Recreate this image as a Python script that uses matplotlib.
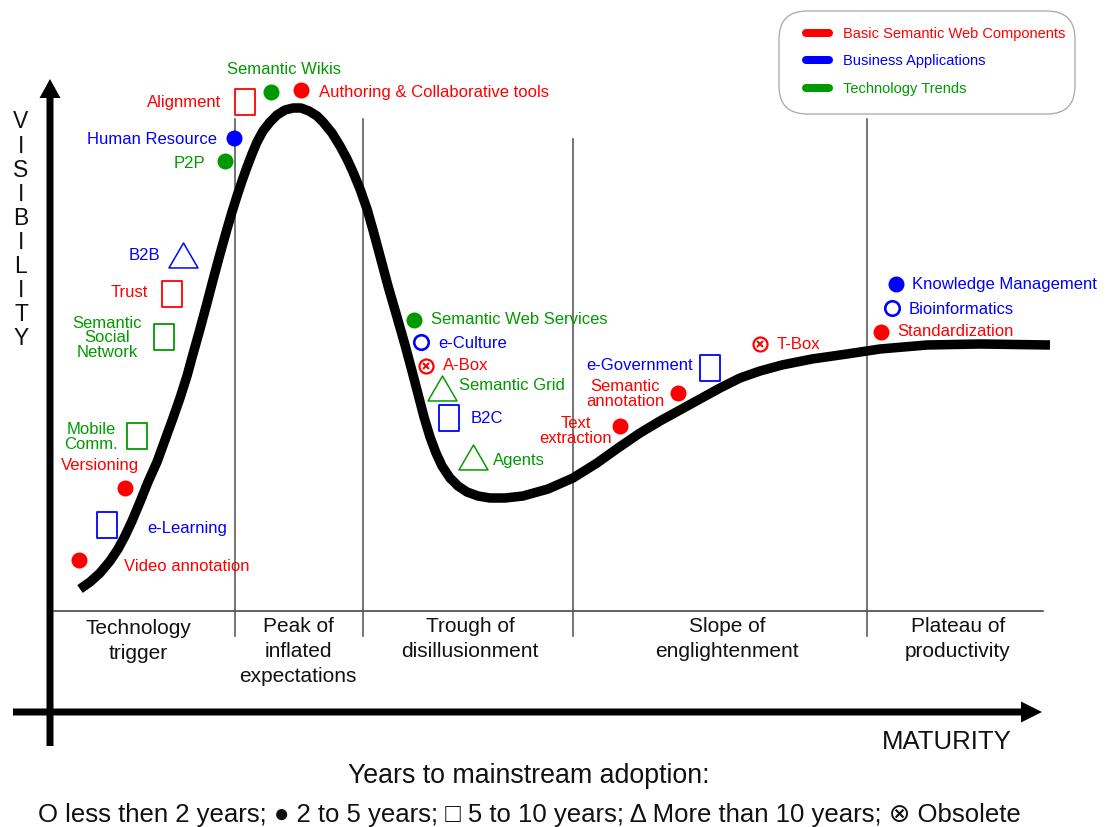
import matplotlib
matplotlib.use("Agg")
import matplotlib.pyplot as plt
from matplotlib.path import Path
from matplotlib.markers import MarkerStyle
from matplotlib.patches import FancyBboxPatch, FancyArrow

plt.rcParams['font.family'] = ['Liberation Sans', 'DejaVu Sans']

# ---------------- data ----------------
categories = ['Basic Semantic Web Components', 'Business Applications', 'Technology Trends']
category_colors = ['#ff0000', '#0000ff', '#009a00']

adoption_classes = ['less then 2 years', '2 to 5 years', '5 to 10 years',
                    'More than 10 years', 'Obsolete']
adoption_symbols = ['O', '\u25cf', '\u25a1', '\u0394', '\u2297']

phases = ['Technology\ntrigger', 'Peak of\ninflated\nexpectations', 'Trough of\ndisillusionment',
          'Slope of\nenglightenment', 'Plateau of\nproductivity']

# hype curve (maturity, visibility), in pixel units
curve_x = [80, 90, 100, 110, 118, 125, 132, 140, 148, 157, 165, 173, 180, 187, 193, 200, 207,
           213, 220, 227, 232, 237, 242, 247, 252, 257, 263, 270, 277, 285, 293, 301, 309, 317,
           323, 332, 340, 347, 353, 360, 367, 373, 380, 388, 397, 405, 412, 418, 424, 430, 436,
           442, 450, 458, 467, 478, 490, 505, 523, 548, 573, 597, 618, 640, 660, 680, 700, 720,
           740, 760, 782, 812, 847, 880, 927, 980, 1050]
curve_y = [590, 583, 574, 562, 550, 537, 522, 503, 483, 463, 441, 419, 399, 377, 355, 330, 304,
           281, 255, 230, 213, 197, 182, 168, 155, 143, 132, 123, 116, 111, 109, 109, 112, 117,
           123, 134, 147, 160, 173, 190, 210, 231, 257, 287, 318, 346, 372, 395, 418, 438, 454,
           467, 479, 487, 493, 497, 499, 499, 497, 490, 479, 464, 449, 434, 422, 411, 400, 389,
           379, 372, 366, 360, 355, 350, 346, 345, 346]

tech_names = ['Video annotation', 'e-Learning', 'Versioning', 'Mobile\nComm.',
              'Semantic\nSocial\nNetwork', 'Trust', 'B2B', 'P2P', 'Human Resource', 'Alignment',
              'Semantic Wikis', 'Authoring & Collaborative tools', 'Semantic Web Services',
              'e-Culture', 'A-Box', 'Semantic Grid', 'B2C', 'Agents', 'Text\nextraction',
              'Semantic\nannotation', 'e-Government', 'T-Box', 'Standardization',
              'Bioinformatics', 'Knowledge Management']
tech_category = [0, 1, 0, 2, 2, 0, 1, 2, 1, 0, 2, 0, 2, 1, 0, 2, 1, 2, 0, 0, 1, 0, 0, 1, 1]
tech_adoption = [1, 2, 1, 2, 2, 2, 3, 1, 1, 2, 1, 1, 1, 0, 4, 3, 2, 3, 1, 1, 2, 4, 1, 0, 1]
tech_maturity = [79, 107, 125, 137, 164, 172, 183, 225, 234, 245, 271, 301, 414, 421, 426, 442,
                 449, 473, 620, 678, 710, 760, 881, 892, 896]
tech_visibility = [561, 526, 489, 437, 338, 295, 256, 162, 139, 103, 93, 91, 321, 343, 367, 389,
                   419, 458, 427, 394, 369, 345, 333, 309, 285]

# ---------------- layout ----------------
label_x = [124, 147, 100, 91, 107, 148, 160, 205, 217, 221, 284, 319, 431, 438, 443, 459, 471,
           493, 576, 625, 693, 777, 897, 909, 912]
label_y = [567, 529, 466, 437, 338, 293, 256, 163, 139, 103, 69, 92, 320, 344, 366, 386, 419,
           461, 431, 394, 366, 345, 332, 310, 285]
label_ha = ['left', 'left', 'center', 'center', 'center', 'right', 'right', 'right', 'right',
            'right', 'center', 'left', 'left', 'left', 'left', 'left', 'left', 'left', 'center',
            'center', 'right', 'left', 'left', 'left', 'left']

phase_bounds = [235, 363, 573, 867]
phase_bound_top = [120, 120, 140, 120]
phase_label_x = [138, 298, 470, 727, 958]
phase_label_y = [641, 652, 639, 639, 639]

PX = 0.72  # points per pixel at 100 dpi

fig = plt.figure(figsize=(11.06, 8.28), dpi=100)
ax = fig.add_axes([0, 0, 1, 1])
ax.set_xlim(0, 1106)
ax.set_ylim(828, 0)
ax.axis('off')

# axes arrows
ax.add_patch(FancyArrow(50, 747, 0, -667, width=7, head_width=21, head_length=19,
                        length_includes_head=True, color='black', lw=0))
ax.add_patch(FancyArrow(13, 713, 1029, 0, width=7, head_width=21, head_length=21,
                        length_includes_head=True, color='black', lw=0))

# phase separators
ax.plot([54, 1043], [612, 612], color='#333333', lw=1.5 * PX)
for bx, bt in zip(phase_bounds, phase_bound_top):
    ax.plot([bx, bx], [bt, 637], color='#555555', lw=1.6 * PX)
for name, px_, py_ in zip(phases, phase_label_x, phase_label_y):
    ax.text(px_, py_, name, ha='center', va='center', fontsize=15, linespacing=1.4,
            color='#111111')

# hype curve
ax.plot(curve_x, curve_y, color='black', lw=9.5 * PX, solid_capstyle='butt',
        solid_joinstyle='round', zorder=3)

# markers
rect_marker = MarkerStyle(Path([(-0.37, -0.5), (0.37, -0.5), (0.37, 0.5), (-0.37, 0.5),
                                (-0.37, -0.5)], closed=True))
tri_marker = MarkerStyle(Path([(-0.5, -0.43), (0.5, -0.43), (0, 0.43), (-0.5, -0.43)],
                              closed=True))

for i, name in enumerate(tech_names):
    c = category_colors[tech_category[i]]
    x, y = tech_maturity[i], tech_visibility[i]
    a = tech_adoption[i]
    if a == 0:
        ax.plot(x, y, marker='o', ms=14.5 * PX, mfc='white', mec=c, mew=2.6 * PX, zorder=5)
    elif a == 1:
        ax.plot(x, y, marker='o', ms=16 * PX, mfc=c, mec=c, mew=0, zorder=5)
    elif a == 2:
        ax.plot(x, y, marker=rect_marker, ms=26 * PX, mfc='none', mec=c, mew=1.8 * PX, zorder=5)
    elif a == 3:
        ax.plot(x, y, marker=tri_marker, ms=29 * PX, mfc='none', mec=c, mew=1.5 * PX, zorder=5)
    else:
        ax.plot(x, y, marker='o', ms=14 * PX, mfc='white', mec=c, mew=2.2 * PX, zorder=5)
        ax.plot(x, y, marker='x', ms=6 * PX, mec=c, mew=2.0 * PX, zorder=6)
    ax.text(label_x[i], label_y[i], name, color=c, fontsize=12, ha=label_ha[i], va='center',
            linespacing=0.95, zorder=6)

# category legend box
ax.add_patch(FancyBboxPatch((779, 12), 296, 103, boxstyle='round,pad=0,rounding_size=28',
                            fc='white', ec='#aaaaaa', lw=1.3 * PX, zorder=2))
legend_y = [34, 61, 89]
for cat, col, ly in zip(categories, category_colors, legend_y):
    ax.plot([806, 829], [ly, ly], color=col, lw=8 * PX, solid_capstyle='round', zorder=3)
    ax.text(843, ly, cat, color=col, fontsize=10.5, ha='left', va='center', zorder=3)

# axis titles
for k, ch in enumerate('VISIBILITY'):
    ax.text(21, 122 + 24.1 * k, ch, fontsize=16.5, ha='center', va='center', color='#111111')
ax.text(947, 742, 'MATURITY', fontsize=18.5, ha='center', va='center', color='#111111')

# adoption legend
ax.text(529, 776, 'Years to mainstream adoption:', fontsize=19.3, ha='center', va='center',
        color='#111111')
adoption_line = '; '.join(s + ' ' + t for s, t in zip(adoption_symbols, adoption_classes))
ax.text(529, 815, adoption_line, fontsize=18.5, ha='center', va='center', color='#111111')

fig.savefig('out.png', dpi=100)
